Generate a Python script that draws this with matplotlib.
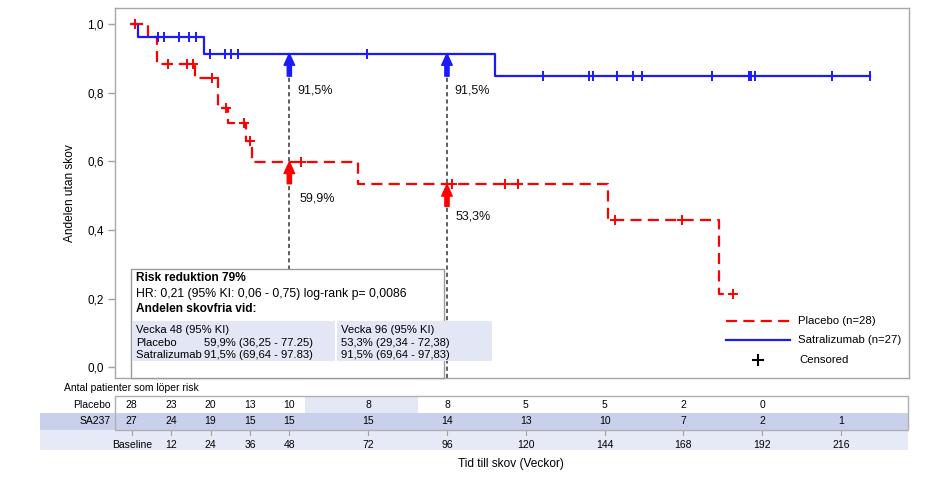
import matplotlib
matplotlib.use('Agg')
import matplotlib.pyplot as plt
from matplotlib.patches import Rectangle, FancyArrowPatch, ArrowStyle
from matplotlib.lines import Line2D

plt.rcParams['font.family'] = ['Liberation Sans', 'DejaVu Sans']
plt.rcParams['lines.scale_dashes'] = False

# ---------------- data ----------------
plac_times = [0, 4.9, 7.7, 19.3, 26.2, 29.2, 34.8, 36.6, 68.8, 145.0, 178.8, 183.2]
plac_surv = [1.0, 0.964, 0.885, 0.844, 0.757, 0.711, 0.659, 0.599, 0.533, 0.430, 0.212, 0.212]
plac_cens = [1.0, 11.2, 16.8, 18.8, 24.6, 28.8, 34.3, 35.9, 51.6, 97.6, 113.6, 117.5,
             147.3, 167.7, 183.2]

sat_times = [0, 1.8, 22.1, 110.5, 224.8]
sat_surv = [1.0, 0.963, 0.915, 0.849, 0.849]
sat_cens = [8.1, 9.8, 14.5, 17.3, 19.6, 23.7, 28.4, 30.3, 32.3, 71.8, 125.3, 139.4, 140.4,
            147.9, 152.6, 155.4, 176.6, 188.0, 188.7, 189.7, 213.1, 224.8]

ref_weeks = [48, 96]
sat_at_ref = [0.915, 0.915]
plac_at_ref = [0.599, 0.533]
sat_ref_labels = ['91,5%', '91,5%']
plac_ref_labels = ['59,9%', '53,3%']

yticks = [0.0, 0.2, 0.4, 0.6, 0.8, 1.0]
ytick_labels = ['0,0', '0,2', '0,4', '0,6', '0,8', '1,0']

risk_weeks = [0, 12, 24, 36, 48, 72, 96, 120, 144, 168, 192, 216]
risk_labels = ['Baseline', '12', '24', '36', '48', '72', '96', '120', '144', '168', '192', '216']
risk_placebo = [28, 23, 20, 13, 10, 8, 8, 5, 5, 2, 0]
risk_sa237 = [27, 24, 19, 15, 15, 15, 14, 13, 10, 7, 2, 1]

box_title = 'Risk reduktion 79%'
box_hr = 'HR: 0,21 (95% KI: 0,06 - 0,75) log-rank p= 0,0086'
box_sub = 'Andelen skovfria vid:'
tab_head = ['Vecka 48 (95% KI)', 'Vecka 96 (95% KI)']
tab_plac = ['59,9% (36,25 - 77.25)', '53,3% (29,34 - 72,38)']
tab_sat = ['91,5% (69,64 - 97.83)', '91,5% (69,64 - 97,83)']

legend_labels = ['Placebo (n=28)', 'Satralizumab (n=27)', 'Censored']

RED = '#ff0000'
BLUE = '#1a1aff'

# ---------------- figure ----------------
W, H = 945, 484
fig = plt.figure(figsize=(W / 100, H / 100), dpi=100)


def fr(x0, y0, x1, y1):
    return [x0 / W, 1 - y1 / H, (x1 - x0) / W, (y1 - y0) / H]


ax = fig.add_axes(fr(115, 8, 909, 378))
ax.set_xlim(-5.09, 236.7)
ax.set_ylim(-0.032, 1.048)
for s in ax.spines.values():
    s.set_color('#a8a8a8')
    s.set_linewidth(1)
ax.set_xticks([])
ax.set_yticks(yticks)
ax.set_yticklabels(ytick_labels)
ax.tick_params(axis='y', length=5, width=1, color='#a0a0a0', labelsize=8.5, pad=3)
ax.set_ylabel('Andelen utan skov', fontsize=8.6)
ax.yaxis.set_label_coords(-0.0485, 0.5)


def surv_at(t, times, surv):
    val = surv[0]
    for ti, si in zip(times, surv):
        if ti <= t:
            val = si
    return val


ax.step(plac_times, plac_surv, where='post', color=RED, lw=1.6, dashes=(8, 4.5), zorder=3)
ax.step(sat_times, sat_surv, where='post', color=BLUE, lw=1.6, zorder=3)
ax.plot(plac_cens, [surv_at(t, plac_times, plac_surv) for t in plac_cens], ls='none',
        marker='+', ms=7.5, mew=1.4, color=RED, zorder=4)
ax.plot(sat_cens, [surv_at(t, sat_times, sat_surv) for t in sat_cens], ls='none',
        marker='|', ms=7.5, mew=1.4, color=BLUE, zorder=4)

# reference lines and arrows
style = ArrowStyle('Simple', head_length=1.05, head_width=0.95, tail_width=0.38)
for i, w in enumerate(ref_weeks):
    ax.plot([w, w], [-0.032, sat_at_ref[i]], color='#333333', lw=1.1, dashes=(3, 2.2), zorder=2)
    ax.add_patch(FancyArrowPatch((w, sat_at_ref[i] - 0.066), (w, sat_at_ref[i]), arrowstyle=style,
                                 mutation_scale=8, color=BLUE, shrinkA=0, shrinkB=0, zorder=5))
    ax.add_patch(FancyArrowPatch((w, plac_at_ref[i] - 0.064), (w, plac_at_ref[i]), arrowstyle=style,
                                 mutation_scale=8, color=RED, shrinkA=0, shrinkB=0, zorder=5))
    ax.annotate(sat_ref_labels[i], xy=(w, sat_at_ref[i] - 0.109), xytext=(5.5, 0),
                textcoords='offset points', va='center', ha='left', fontsize=9, color='#111111')
ax.annotate(plac_ref_labels[0], xy=(ref_weeks[0], plac_at_ref[0] - 0.106), xytext=(7, 0),
            textcoords='offset points', va='center', ha='left', fontsize=9, color='#111111')
ax.annotate(plac_ref_labels[1], xy=(ref_weeks[1], plac_at_ref[1] - 0.095), xytext=(6.5, 0),
            textcoords='offset points', va='center', ha='left', fontsize=9, color='#111111')

# ---------------- overlay (pixel coordinates) ----------------
ov = fig.add_axes([0, 0, 1, 1], zorder=10)
ov.set_xlim(0, W)
ov.set_ylim(H, 0)
ov.axis('off')


def wx(w):
    return ax.transData.transform((w, 0))[0]


# annotation box
ov.add_patch(Rectangle((130.7, 269), 444 - 130.7, 378 - 269, fc='white', ec='#9a9a9a', lw=1))
ov.text(136.5, 278.3, box_title, fontsize=8.6, fontweight='bold', va='center', ha='left')
ov.text(136.5, 294.0, box_hr, fontsize=8.8, va='center', ha='left')
ov.text(136.5, 308.5, box_sub, fontsize=8.6, fontweight='bold', va='center', ha='left')
CELL = '#e3e6f4'
ov.add_patch(Rectangle((131.7, 321), 335 - 131.7, 39.7, fc=CELL, ec='none'))
ov.add_patch(Rectangle((337, 321), 492.3 - 337, 39.7, fc=CELL, ec='none'))
fs_t = 8.1
ov.text(136.5, 330.3, tab_head[0], fontsize=fs_t, va='center')
ov.text(341, 330.3, tab_head[1], fontsize=fs_t, va='center')
sat_lab = ov.text(136.5, 355, 'Satralizumab ', fontsize=fs_t, va='center')
fig.canvas.draw()
bb = sat_lab.get_window_extent(fig.canvas.get_renderer())
xv = bb.x1 - 1
ov.text(136.5, 342.6, 'Placebo', fontsize=fs_t, va='center')
ov.text(xv, 342.6, tab_plac[0], fontsize=fs_t, va='center')
ov.text(xv, 355, tab_sat[0], fontsize=fs_t, va='center')
ov.text(341, 342.6, tab_plac[1], fontsize=fs_t, va='center')
ov.text(341, 355, tab_sat[1], fontsize=fs_t, va='center')

# legend
ov.add_line(Line2D([726, 790], [320.7, 320.7], color=RED, lw=1.6, dashes=(8, 4.5)))
ov.add_line(Line2D([726, 790], [340.3, 340.3], color=BLUE, lw=1.6))
ov.add_line(Line2D([758], [360], color='black', marker='+', ms=8, mew=1.5, ls='none'))
ov.text(798.5, 320.7, legend_labels[0], fontsize=8.2, va='center')
ov.text(798.5, 340.3, legend_labels[1], fontsize=8.2, va='center')
ov.text(799.5, 360.3, legend_labels[2], fontsize=8.2, va='center')

# risk table
fs_r = 7.5
ov.text(64, 388, 'Antal patienter som löper risk', fontsize=fs_r, va='center')
ov.add_patch(Rectangle((40, 413), 868, 17, fc='#c9d0ec', ec='none'))
ov.add_patch(Rectangle((40, 430), 868, 20, fc='#e6e9f6', ec='none'))
ov.add_patch(Rectangle((wx(52.8), 396), wx(87.3) - wx(52.8), 17, fc='#e4e7f5', ec='none'))
ov.add_patch(Rectangle((115, 396), 793, 34, fc='none', ec='#b0b0b0', lw=1))
ov.text(111, 404.5, 'Placebo', fontsize=fs_r, va='center', ha='right')
ov.text(111, 421.5, 'SA237', fontsize=fs_r, va='center', ha='right')
for i, w in enumerate(risk_weeks):
    x = wx(w)
    if i < len(risk_placebo):
        ov.text(x, 404.5, str(risk_placebo[i]), fontsize=fs_r, va='center', ha='center')
    ov.text(x, 421.5, str(risk_sa237[i]), fontsize=fs_r, va='center', ha='center')
    ov.add_line(Line2D([x, x], [431, 434.5], color='#a0a0a0', lw=0.8))
    ov.text(x, 445, risk_labels[i], fontsize=fs_r, va='center', ha='center')

ov.text(511, 464, 'Tid till skov (Veckor)', fontsize=8.6, va='center', ha='center')

fig.savefig('out.png', dpi=100)
